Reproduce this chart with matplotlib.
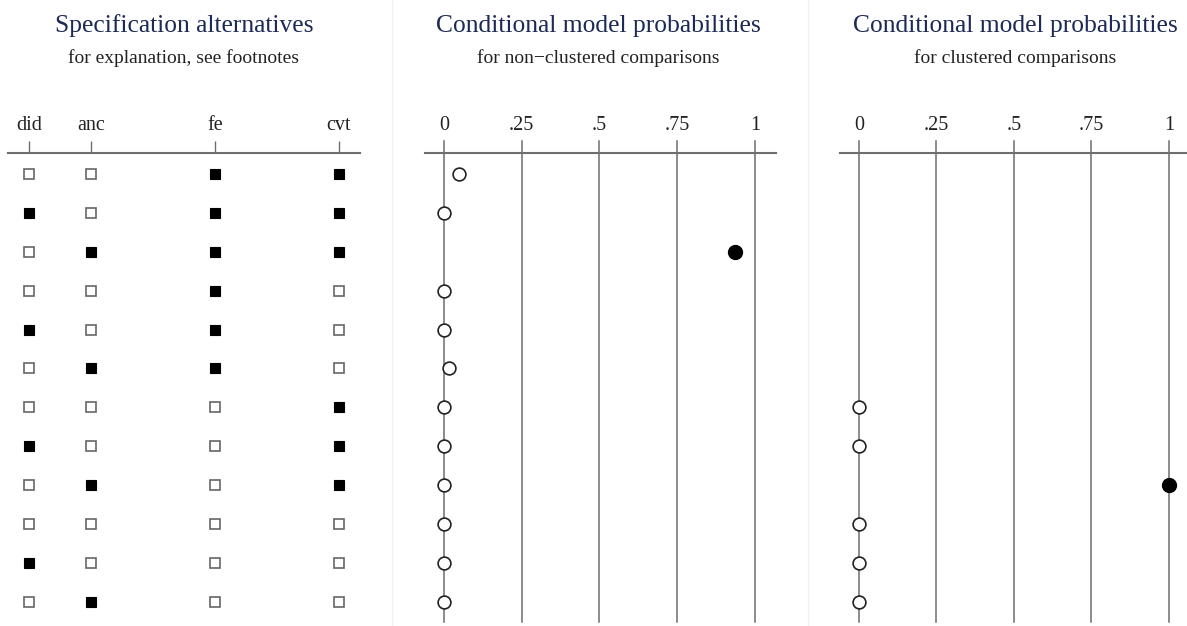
import numpy as np
import matplotlib
matplotlib.use("Agg")
import matplotlib.pyplot as plt
from matplotlib.lines import Line2D

# ---------------- data ----------------
spec_labels = ["did", "anc", "fe", "cvt"]
did = [0, 1, 0, 0, 1, 0, 0, 1, 0, 0, 1, 0]
anc = [0, 0, 1, 0, 0, 1, 0, 0, 1, 0, 0, 1]
fe  = [1, 1, 1, 1, 1, 1, 0, 0, 0, 0, 0, 0]
cvt = [1, 1, 1, 0, 0, 0, 1, 1, 1, 0, 0, 0]

prob_nonclustered = [0.048, 0.0, 0.936, 0.0, 0.0, 0.016, 0.0, 0.0, 0.0, 0.0, 0.0, 0.0]
prob_clustered = [np.nan, np.nan, np.nan, np.nan, np.nan, np.nan, 0.0, 0.0, 1.0, 0.0, 0.0, 0.0]

prob_ticks = [0, 0.25, 0.5, 0.75, 1]
prob_ticklabels = ["0", ".25", ".5", ".75", "1"]

titles = ["Specification alternatives", "Conditional model probabilities", "Conditional model probabilities"]
subtitles = ["for explanation, see footnotes", "for non\u2212clustered comparisons", "for clustered comparisons"]

# ---------------- layout ----------------
W, H = 1187, 626
DPI = 100
fig = plt.figure(figsize=(W / DPI, H / DPI), dpi=DPI)
fig.patch.set_facecolor("white")

SERIF = ["Liberation Serif", "DejaVu Serif"]
TITLE_COLOR = "#1c2a55"
LINE_COLOR = "#6e6e6e"
TICK_FS = 14.5

n = len(did)
rows = np.arange(1, n + 1)
ylim = (12.52, 0.46)
y_top_px, y_bot_px = 153, 622
TICK_LEN = 9


def make_axes(x0, x1):
    return fig.add_axes([x0 / W, 1 - y_bot_px / H, (x1 - x0) / W, (y_bot_px - y_top_px) / H])


def style_top(ax, ticklen):
    for s in ["left", "right", "bottom"]:
        ax.spines[s].set_visible(False)
    ax.spines["top"].set_color(LINE_COLOR)
    ax.spines["top"].set_linewidth(1.5)
    ax.xaxis.tick_top()
    ax.tick_params(axis="x", direction="out", length=ticklen, width=1.0, color=LINE_COLOR,
                   pad=4 + (TICK_LEN - ticklen), labelsize=TICK_FS, labelcolor="#222222")
    for lab in ax.get_xticklabels():
        lab.set_family(SERIF)
    ax.set_yticks([])
    ax.set_ylim(*ylim)
    ax.patch.set_alpha(0)


# ---- left panel: specification matrix ----
col_pos = [0, 1, 3, 5]
axL = make_axes(8, 360)
axL.set_xlim(-0.34, 5.34)
axL.set_xticks(col_pos)
axL.set_xticklabels(spec_labels)
style_top(axL, TICK_LEN)
for cx, col in zip(col_pos, [did, anc, fe, cvt]):
    col = np.array(col)
    on = col == 1
    axL.plot(np.full(on.sum(), cx), rows[on], linestyle="none", marker="s", markersize=7.4,
             markerfacecolor="black", markeredgecolor="black", markeredgewidth=0.8)
    axL.plot(np.full((~on).sum(), cx), rows[~on], linestyle="none", marker="s", markersize=6.8,
             markerfacecolor="white", markeredgecolor="#666666", markeredgewidth=1.2)


def prob_panel(x0, x1, xlim, vals):
    ax = make_axes(x0, x1)
    ax.set_xlim(*xlim)
    ax.set_xticks(prob_ticks)
    ax.set_xticklabels(prob_ticklabels)
    style_top(ax, 0)
    for t in prob_ticks:
        ax.axvline(t, color=LINE_COLOR, linewidth=1.1, ymin=0, ymax=1 + 12 / (y_bot_px - y_top_px),
                   clip_on=False, zorder=1)
    v = np.array(vals, dtype=float)
    valid = ~np.isnan(v)
    vmax = np.nanmax(v)
    filled = valid & (v == vmax)
    hollow = valid & ~filled
    ax.plot(v[hollow], rows[hollow], linestyle="none", marker="o", markersize=9.2,
            markerfacecolor="white", markeredgecolor="#222222", markeredgewidth=1.2, zorder=3)
    ax.plot(v[filled], rows[filled], linestyle="none", marker="o", markersize=10,
            markerfacecolor="black", markeredgecolor="black", zorder=3)
    return ax


axM = prob_panel(425, 776, (-0.061, 1.068), prob_nonclustered)
axR = prob_panel(840, 1187, (-0.061, 1.058), prob_clustered)

# faint panel separators
for xs in [392, 808]:
    fig.add_artist(Line2D([xs / W, xs / W], [0, 1], color="#eef2f2", linewidth=1.0))

# titles
title_x = [184, 598, 1015]
for tx, t, st in zip(title_x, titles, subtitles):
    fig.text(tx / W, 1 - 26 / H, t, ha="center", va="center", fontsize=18.4,
             family=SERIF, color=TITLE_COLOR)
    fig.text(tx / W, 1 - 58 / H, st, ha="center", va="center", fontsize=14,
             family=SERIF, color="#222222")

fig.savefig("out.png", dpi=DPI)
